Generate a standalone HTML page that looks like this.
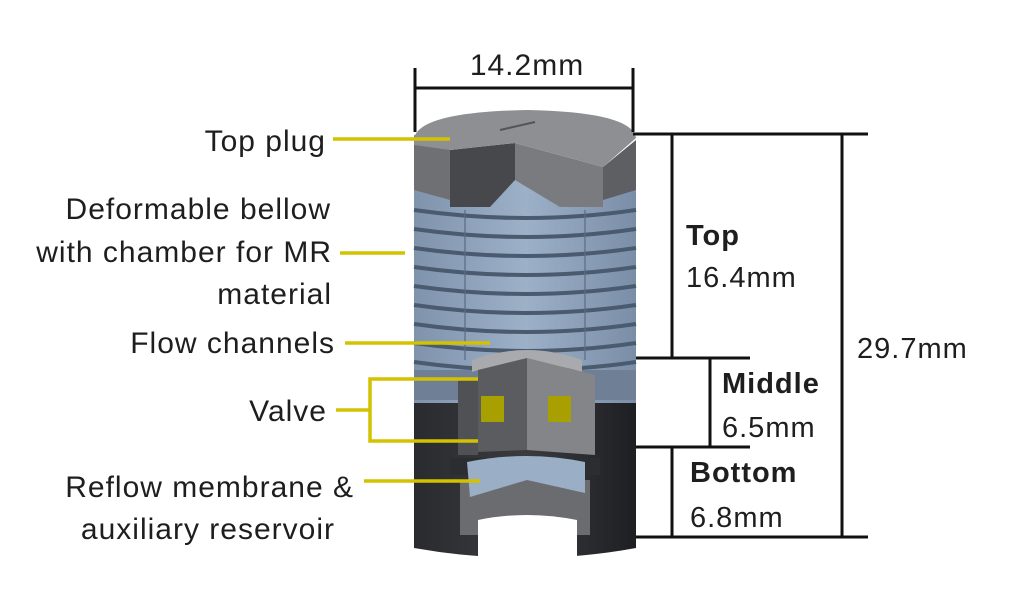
<!DOCTYPE html>
<html><head><meta charset="utf-8"><style>
html,body{margin:0;padding:0;background:#fff;}
svg{display:block}
text{font-family:"Liberation Sans","DejaVu Sans",sans-serif;fill:#1e1e1e;letter-spacing:1px;}
</style></head><body>
<svg width="1024" height="610" viewBox="0 0 1024 610" xmlns="http://www.w3.org/2000/svg">
<defs>
<linearGradient id="blk" x1="0" x2="1"><stop offset="0" stop-color="#2a2b2e"/><stop offset="0.5" stop-color="#3a3b3f"/><stop offset="1" stop-color="#1e1f22"/></linearGradient>
<linearGradient id="blu" x1="0" x2="1"><stop offset="0" stop-color="#7f93ad"/><stop offset="0.5" stop-color="#9cb0c8"/><stop offset="1" stop-color="#7a8ea8"/></linearGradient>
</defs>
<path d="M414,398 L636,398 L636,548 Q527,568 414,548 Z" fill="url(#blk)"/>
<rect x="414" y="178" width="222" height="225" fill="url(#blu)"/>
<rect x="414" y="370" width="222" height="30" fill="#6e7f96"/>
<g stroke="#4a5a6f" stroke-width="4" fill="none">
<path d="M414,210 Q527,226 636,210"/><path d="M414,229 Q527,245 636,229"/>
<path d="M414,248 Q527,264 636,248"/><path d="M414,267 Q527,283 636,267"/>
<path d="M414,286 Q527,302 636,286"/><path d="M414,305 Q527,321 636,305"/>
<path d="M414,324 Q527,340 636,324"/><path d="M414,343 Q527,359 636,343"/>
<path d="M414,362 Q527,378 636,362"/>
</g>
<g stroke="#5a6b82" stroke-width="1.5" fill="none" opacity="0.8">
<line x1="465" y1="210" x2="465" y2="360"/><line x1="585" y1="210" x2="585" y2="360"/>
</g>
<path d="M414,135 L414,190 L450,200 L450,150 Z" fill="#6f7074"/>
<path d="M450,150 L515,143 L515,180 L490,207 L450,207 Z" fill="#47484c"/>
<path d="M515,143 L603,167 L603,207 L560,207 L515,180 Z" fill="#7a7b7f"/>
<path d="M603,167 L636,140 L636,190 L603,200 Z" fill="#5e5f63"/>
<path d="M414,138 Q420,112 527,110 Q632,112 636,138 L603,167 L515,143 L450,150 L414,145 Z" fill="#8e8f93"/>
<path d="M500,130 L535,122" stroke="#555" stroke-width="2"/>
<path d="M472,360 Q527,340 582,360 L582,372 Q527,355 472,372 Z" fill="#a9aaad"/>
<path d="M478,370 L527,358 L527,450 L478,452 Z" fill="#5b5c60"/>
<path d="M527,358 L595,375 L595,455 L527,450 Z" fill="#848589"/>
<rect x="458" y="380" width="20" height="75" fill="#505155"/>
<rect x="481" y="396" width="23" height="26" fill="#a8a000"/>
<rect x="548" y="396" width="23" height="26" fill="#a8a000"/>
<path d="M450,458 L600,458 L600,475 L450,475 Z" fill="#2c2d30"/>
<path d="M460,480 L590,480 L590,535 L460,535 Z" fill="#6b6c70"/>
<path d="M467,462 Q527,450 585,462 L585,493 L527,480 L470,497 Z" fill="#9aaec6"/>
<path d="M478,520 Q527,510 577,520 L577,560 L478,560 Z" fill="#fff"/>
<g stroke="#111" stroke-width="3" fill="none">
<line x1="415" y1="68" x2="415" y2="132"/><line x1="633" y1="68" x2="633" y2="132"/>
<line x1="415" y1="88" x2="633" y2="88"/>
<line x1="633" y1="134" x2="868" y2="134"/>
<line x1="672" y1="134" x2="672" y2="358"/>
<line x1="636" y1="358" x2="750" y2="358"/>
<line x1="710" y1="358" x2="710" y2="447"/>
<line x1="636" y1="447" x2="750" y2="447"/>
<line x1="672" y1="447" x2="672" y2="537"/>
<line x1="636" y1="537" x2="868" y2="537"/>
<line x1="842" y1="134" x2="842" y2="537"/>
</g>
<g stroke="#d4c200" stroke-width="3.5" fill="none">
<line x1="333" y1="139" x2="450" y2="139"/>
<line x1="340" y1="253" x2="405" y2="253"/>
<line x1="345" y1="343" x2="490" y2="343"/>
<line x1="336" y1="410" x2="370" y2="410"/>
<polyline points="478,379 370,379 370,441 478,441"/>
<line x1="364" y1="481" x2="480" y2="481"/>
</g>
<g font-size="30" text-anchor="end">
<text x="326" y="151">Top plug</text>
<text x="331" y="219">Deformable bellow</text>
<text x="332" y="262">with chamber for MR</text>
<text x="332" y="304">material</text>
<text x="335" y="353">Flow channels</text>
<text x="327" y="421">Valve</text>
<text x="354" y="497">Reflow membrane &amp;</text>
<text x="335" y="539">auxiliary reservoir</text>
</g>
<text x="527" y="75" font-size="30" text-anchor="middle">14.2mm</text>
<g font-size="29">
<text x="686" y="245" font-weight="bold">Top</text>
<text x="686" y="287">16.4mm</text>
<text x="722" y="393" font-weight="bold">Middle</text>
<text x="722" y="437">6.5mm</text>
<text x="690" y="482" font-weight="bold">Bottom</text>
<text x="690" y="527">6.8mm</text>
<text x="857" y="358">29.7mm</text>
</g>
</svg>
</body></html>
